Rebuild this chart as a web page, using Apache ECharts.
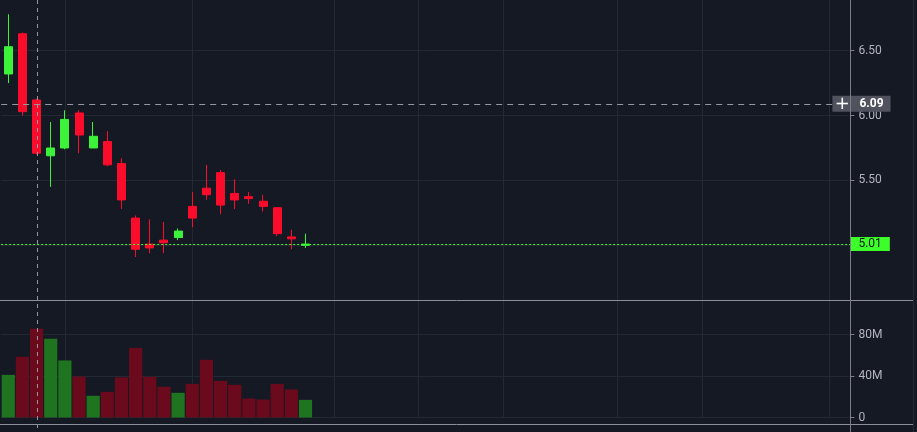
<!DOCTYPE html>
<html>
<head>
<meta charset="utf-8">
<script src="https://cdn.jsdelivr.net/npm/echarts@6/dist/echarts.min.js"></script>
<style>
html,body{margin:0;padding:0;background:#151924;overflow:hidden;}
#c{width:917px;height:432px;}
</style>
</head>
<body>
<div id="c"></div>
<script>
// ---- data ----
const categories = Array.from({length: 60}, (_, i) => String(i + 1));
const openP  = [6.32, 6.63, 6.12, 5.69, 5.75, 6.02, 5.75, 5.80, 5.63, 5.21, 5.01, 5.04, 5.06, 5.30, 5.44, 5.56, 5.40, 5.375, 5.34, 5.29, 5.065, 5.00];
const closeP = [6.53, 6.03, 5.71, 5.75, 5.97, 5.85, 5.84, 5.62, 5.35, 4.97, 4.98, 5.02, 5.11, 5.21, 5.39, 5.31, 5.35, 5.36, 5.30, 5.09, 5.05, 5.01];
const lowP   = [6.25, 6.00, 5.70, 5.45, 5.74, 5.71, 5.75, 5.61, 5.28, 4.91, 4.94, 4.94, 5.04, 5.14, 5.35, 5.24, 5.28, 5.32, 5.26, 5.07, 4.97, 4.98];
const highP  = [6.78, 6.64, 6.13, 5.95, 6.04, 6.04, 5.95, 5.88, 5.67, 5.23, 5.20, 5.18, 5.13, 5.41, 5.62, 5.58, 5.51, 5.41, 5.39, 5.29, 5.12, 5.09];
const volumeM = [41.1, 58.5, 85.5, 75.8, 55.0, 39.5, 20.9, 24.7, 38.6, 67.1, 39.2, 29.6, 23.8, 32.4, 55.6, 35.3, 31.5, 18.3, 17.3, 32.4, 27.0, 17.0];
const priceTicks = [5.0, 5.5, 6.0, 6.5];
const priceLabels = [5.5, 6.0, 6.5];
const volumeTicks = [0, 40e6, 80e6];
const verticalGridIdx = [4, 13, 23, 29, 35, 43, 49, 58];
const lastPrice = 5.01;
const crossPrice = 6.09;
const crossIndex = 2;

// ---- style ----
const UP = '#3df23a', DOWN = '#fb0c2a';
const VOL_UP = '#1f751f', VOL_DOWN = '#6b0a1c';
const GRID = '#232833';
const LABEL = '#b2b5be';
const FONT = 'Roboto, "Noto Sans", sans-serif';

const chart = echarts.init(document.getElementById('c'), null, {renderer: 'canvas'});

const gridOpts = [
  {left: 1.2, top: 0, width: 849.2, height: 300, outerBoundsMode: 'none'},
  {left: 1.2, top: 301, width: 849.2, height: 116.5, outerBoundsMode: 'none'}
];

function vGridAxis(gi) {
  return {
    type: 'value', gridIndex: gi, min: -0.5, max: 59.5,
    axisLine: {show: false, onZero: false},
    axisTick: {show: false, customValues: verticalGridIdx},
    axisLabel: {show: false, customValues: verticalGridIdx},
    splitLine: {show: true, lineStyle: {color: GRID, width: 1}}
  };
}

chart.setOption({
  backgroundColor: '#151924',
  animation: false,
  textStyle: {fontFamily: FONT},
  grid: gridOpts,
  xAxis: [
    {type: 'category', gridIndex: 0, data: categories, boundaryGap: true, show: false},
    {type: 'category', gridIndex: 1, data: categories, boundaryGap: true, show: false},
    vGridAxis(0),
    vGridAxis(1)
  ],
  yAxis: [
    {
      type: 'value', gridIndex: 0, position: 'right', min: 4.579, max: 6.89, scale: true,
      axisLine: {show: false, onZero: false},
      axisTick: {show: true, length: 4, customValues: priceTicks, lineStyle: {color: '#7b7e88'}},
      axisLabel: {customValues: priceLabels, formatter: v => v.toFixed(2), color: LABEL, fontSize: 12, margin: 8, fontFamily: FONT},
      splitLine: {show: true, lineStyle: {color: GRID, width: 1}}
    },
    {
      type: 'value', gridIndex: 1, position: 'right', min: 0, max: 112.3e6,
      axisLine: {show: false, onZero: false},
      axisTick: {show: true, length: 4, customValues: volumeTicks, lineStyle: {color: '#7b7e88'}},
      axisLabel: {customValues: volumeTicks, formatter: v => v === 0 ? '0' : (v / 1e6) + 'M', color: LABEL, fontSize: 12, margin: 8, fontFamily: FONT},
      splitLine: {show: true, lineStyle: {color: GRID, width: 1}}
    }
  ],
  series: [
    {
      type: 'candlestick', xAxisIndex: 0, yAxisIndex: 0,
      data: openP.map((o, i) => [o, closeP[i], lowP[i], highP[i]]),
      barWidth: '60%',
      itemStyle: {color: UP, color0: DOWN, borderColor: UP, borderColor0: DOWN, borderWidth: 1},
      markLine: {
        symbol: ['none', 'none'], silent: true, animation: false,
        data: [
          {
            yAxis: lastPrice,
            lineStyle: {color: '#3cff2a', width: 1, type: [2, 2]},
            label: {
              show: true, position: 'end', distance: 0,
              formatter: () => lastPrice.toFixed(2),
              color: '#10131a', backgroundColor: '#3cff2a', fontSize: 12, fontFamily: FONT,
              padding: [1, 8, 1, 8], lineHeight: 12
            }
          },
          {
            yAxis: crossPrice,
            lineStyle: {color: '#9598a1', width: 1, type: [6, 5]},
            label: {
              show: true, position: 'end', distance: -18,
              formatter: () => '{p|+}{v|' + crossPrice.toFixed(2) + '}',
              backgroundColor: '#50535e', padding: [1, 7, 1, 2],
              rich: {
                p: {fontSize: 18, color: '#ffffff', width: 16, align: 'center', lineHeight: 14, fontFamily: 'DejaVu Sans'},
                v: {fontSize: 12, color: '#ffffff', fontWeight: 'bold', padding: [0, 0, 0, 9], fontFamily: FONT, lineHeight: 14}
              }
            }
          }
        ]
      }
    },
    {
      type: 'bar', xAxisIndex: 1, yAxisIndex: 1,
      barWidth: '93%',
      data: volumeM.map((v, i) => ({
        value: v * 1e6,
        itemStyle: {color: closeP[i] >= openP[i] ? VOL_UP : VOL_DOWN}
      }))
    }
  ]
});

// crosshair vertical line and frame lines, placed via the library's scales
const cx = Math.round(chart.convertToPixel({xAxisIndex: 0}, categories[crossIndex])) + 0.5;
chart.setOption({
  graphic: [
    {type: 'line', z: 50, silent: true, shape: {x1: 0, y1: 300.5, x2: 913, y2: 300.5}, style: {stroke: '#8d9099', lineWidth: 1}},
    {type: 'line', z: 50, silent: true, shape: {x1: 0, y1: 424.5, x2: 913, y2: 424.5}, style: {stroke: '#8d9099', lineWidth: 1}},
    {type: 'line', z: 50, silent: true, shape: {x1: 850.5, y1: 0, x2: 850.5, y2: 432}, style: {stroke: '#7b7e88', lineWidth: 1}},
    {type: 'line', z: 50, silent: true, shape: {x1: 913.5, y1: 0, x2: 913.5, y2: 432}, style: {stroke: '#262a34', lineWidth: 1}},
    {type: 'line', z: 40, silent: true, shape: {x1: cx, y1: 0, x2: cx, y2: 432}, style: {stroke: '#9598a1', lineWidth: 1, lineDash: [4, 4]}}
  ]
});
</script>
</body>
</html>
